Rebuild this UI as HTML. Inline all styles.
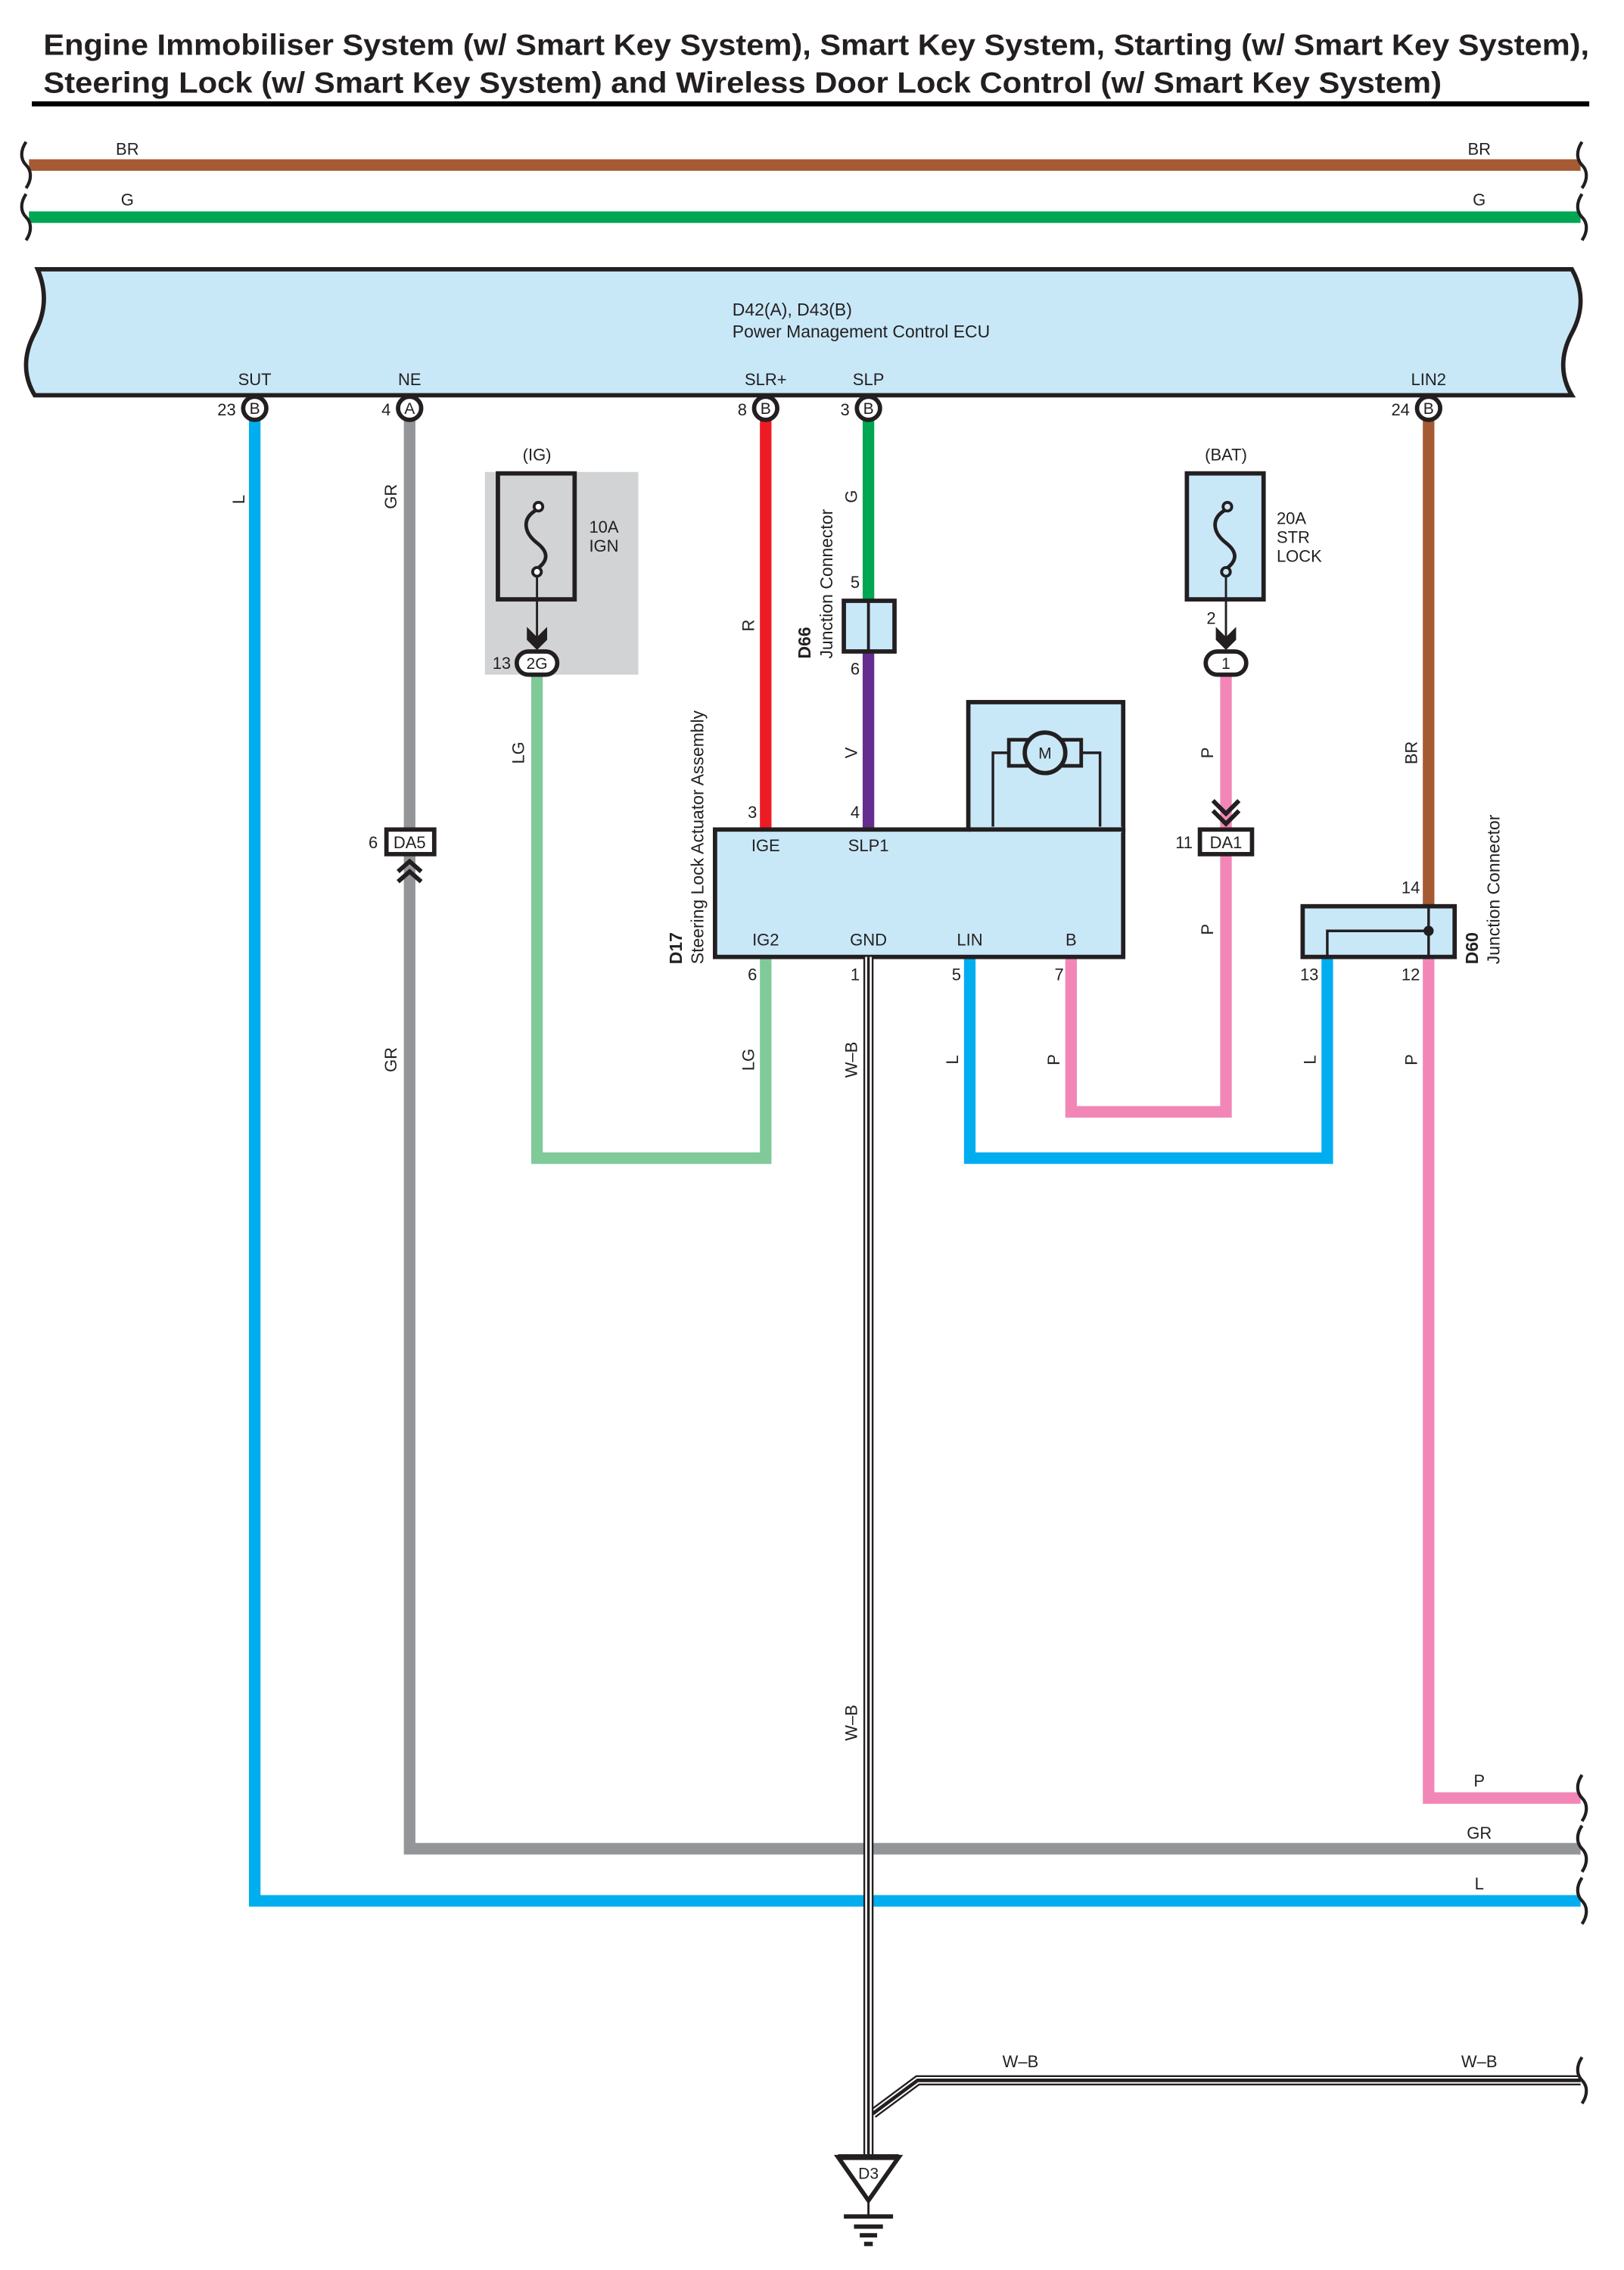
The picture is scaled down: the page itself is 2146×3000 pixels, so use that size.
<!DOCTYPE html>
<html><head><meta charset="utf-8"><style>
html,body{margin:0;padding:0;background:#fff}
svg{display:block}
text{font-family:"Liberation Sans",sans-serif;fill:#231f20}
.t{font-size:11.5px}
.v{font-size:11.5px}
</style></head><body>
<svg width="2146" height="3000" viewBox="0 0 1122 1568" preserveAspectRatio="none" xmlns="http://www.w3.org/2000/svg">
<defs>
<path id="brk" d="M0,-16 C-4,-10 -4,-4 0,0 C4,4 4,10 0,16" fill="none" stroke="#231f20" stroke-width="2.2"/>
</defs>
<!-- Title -->
<text x="30" y="38" font-size="20.5" font-weight="bold" textLength="1068" lengthAdjust="spacingAndGlyphs">Engine Immobiliser System (w/ Smart Key System), Smart Key System, Starting (w/ Smart Key System),</text>
<text x="30" y="64" font-size="20.5" font-weight="bold" textLength="966" lengthAdjust="spacingAndGlyphs">Steering Lock (w/ Smart Key System) and Wireless Door Lock Control (w/ Smart Key System)</text>
<rect x="22" y="70" width="1076" height="3.5" fill="#000"/>

<!-- top wires -->
<line x1="20" y1="114" x2="1092" y2="114" stroke="#A65A33" stroke-width="8"/>
<line x1="20" y1="150" x2="1092" y2="150" stroke="#00A651" stroke-width="8"/>
<text x="88" y="107" class="t" text-anchor="middle">BR</text>
<text x="1022" y="107" class="t" text-anchor="middle">BR</text>
<text x="88" y="142" class="t" text-anchor="middle">G</text>
<text x="1022" y="142" class="t" text-anchor="middle">G</text>
<use href="#brk" x="18" y="114"/><use href="#brk" x="1093" y="114"/>
<use href="#brk" x="18" y="150"/><use href="#brk" x="1093" y="150"/>

<!-- ECU -->
<path d="M26,186 L1086,186 C1094,200 1094,215 1086,230 C1078,245 1078,260 1086,273 L24,273 C16,260 16,245 24,230 C32,215 32,200 26,186 Z" fill="#C8E8F8" stroke="#231f20" stroke-width="3"/>
<text x="506" y="218" font-size="12">D42(A), D43(B)</text>
<text x="506" y="233" font-size="12">Power Management Control ECU</text>
<text x="176" y="266" class="t" text-anchor="middle">SUT</text>
<text x="283" y="266" class="t" text-anchor="middle">NE</text>
<text x="529" y="266" class="t" text-anchor="middle">SLR+</text>
<text x="600" y="266" class="t" text-anchor="middle">SLP</text>
<text x="987" y="266" class="t" text-anchor="middle">LIN2</text>

<!-- wires -->
<g fill="none" stroke-width="8" stroke-linejoin="miter">
<polyline points="176,290 176,1313 1092,1313" stroke="#00AEEF"/>
<polyline points="283,290 283,1277 1092,1277" stroke="#939598"/>
<line x1="529" y1="290" x2="529" y2="573" stroke="#ED1C24"/>
<line x1="600" y1="290" x2="600" y2="415" stroke="#00A651"/>
<line x1="600" y1="450" x2="600" y2="573" stroke="#662D91"/>
<polyline points="371,466 371,800 529,800 529,661" stroke="#80CA9A"/>
<polyline points="670,661 670,800 917,800 917,661" stroke="#00AEEF"/>
<polyline points="740,661 740,768 847,768 847,466" stroke="#F287B7"/>
<line x1="987" y1="290" x2="987" y2="626" stroke="#A65A33"/>
<polyline points="987,661 987,1242 1092,1242" stroke="#F287B7"/>
</g>
<use href="#brk" x="1093" y="1242"/><use href="#brk" x="1093" y="1277"/><use href="#brk" x="1093" y="1313"/>
<text x="1022" y="1234" class="t" text-anchor="middle">P</text>
<text x="1022" y="1270" class="t" text-anchor="middle">GR</text>
<text x="1022" y="1305" class="t" text-anchor="middle">L</text>

<!-- connector circles -->
<g stroke="#231f20" stroke-width="3" fill="#fff">
<circle cx="176" cy="282" r="8"/><circle cx="283" cy="282" r="8"/>
<circle cx="529" cy="282" r="8"/><circle cx="600" cy="282" r="8"/><circle cx="987" cy="282" r="8"/>
</g>
<g font-size="11" text-anchor="middle">
<text x="176" y="286">B</text><text x="283" y="286">A</text><text x="529" y="286">B</text><text x="600" y="286">B</text><text x="987" y="286">B</text>
</g>
<g font-size="11.5" text-anchor="end">
<text x="163" y="287">23</text><text x="270" y="287">4</text><text x="516" y="287">8</text><text x="587" y="287">3</text><text x="974" y="287">24</text>
</g>

<!-- IG fuse -->
<rect x="335" y="326" width="106" height="140" fill="#D1D3D4"/>
<rect x="344" y="327" width="53" height="87" fill="none" stroke="#231f20" stroke-width="3"/>
<text x="371" y="318" class="t" text-anchor="middle">(IG)</text>
<text x="407" y="368" class="t">10A</text><text x="407" y="381" class="t">IGN</text>
<path d="M371,352 C360,358 362,368 371,375 C380,382 378,388 371,393" fill="none" stroke="#231f20" stroke-width="2.5"/>
<circle cx="372" cy="350" r="3" fill="#fff" stroke="#231f20" stroke-width="2"/>
<circle cx="371" cy="395" r="3" fill="#fff" stroke="#231f20" stroke-width="2"/>
<line x1="371" y1="398" x2="371" y2="440" stroke="#231f20" stroke-width="1.5"/>
<path d="M364,433 L371,440 L378,433 L378,442 L371,449 L364,442 Z" fill="#231f20"/>
<rect x="357" y="450" width="28" height="16" rx="8" fill="#fff" stroke="#231f20" stroke-width="3"/>
<text x="371" y="462" font-size="11" text-anchor="middle">2G</text>
<text x="353" y="462" class="t" text-anchor="end">13</text>

<!-- BAT fuse -->
<rect x="820" y="327" width="53" height="87" fill="#C8E8F8" stroke="#231f20" stroke-width="3"/>
<text x="847" y="318" class="t" text-anchor="middle">(BAT)</text>
<text x="882" y="362" class="t">20A</text><text x="882" y="375" class="t">STR</text><text x="882" y="388" class="t">LOCK</text>
<path d="M847,352 C836,358 838,368 847,375 C856,382 854,388 847,393" fill="none" stroke="#231f20" stroke-width="2.5"/>
<circle cx="848" cy="350" r="3" fill="#C8E8F8" stroke="#231f20" stroke-width="2"/>
<circle cx="847" cy="395" r="3" fill="#C8E8F8" stroke="#231f20" stroke-width="2"/>
<line x1="847" y1="398" x2="847" y2="440" stroke="#231f20" stroke-width="1.5"/>
<path d="M840,433 L847,440 L854,433 L854,442 L847,449 L840,442 Z" fill="#231f20"/>
<text x="840" y="431" class="t" text-anchor="end">2</text>
<rect x="833" y="450" width="28" height="16" rx="8" fill="#fff" stroke="#231f20" stroke-width="3"/>
<text x="847" y="462" font-size="11" text-anchor="middle">1</text>

<!-- DA1 -->
<path d="M838,553 L847,562 L856,553 M838,560 L847,569 L856,560" fill="none" stroke="#231f20" stroke-width="3"/>
<rect x="829" y="573" width="36" height="17" fill="#fff" stroke="#231f20" stroke-width="3"/>
<text x="847" y="586" font-size="11.5" text-anchor="middle">DA1</text>
<text x="824" y="586" class="t" text-anchor="end">11</text>

<!-- DA5 -->
<rect x="267" y="573" width="33" height="17" fill="#fff" stroke="#231f20" stroke-width="3"/>
<text x="283" y="586" font-size="11.5" text-anchor="middle">DA5</text>
<text x="261" y="586" class="t" text-anchor="end">6</text>
<path d="M275,602 L283,595 L291,602 M275,609 L283,602 L291,609" fill="none" stroke="#231f20" stroke-width="3"/>

<!-- D66 -->
<rect x="583" y="415" width="35" height="35" fill="#C8E8F8" stroke="#231f20" stroke-width="3"/>
<line x1="600" y1="415" x2="600" y2="450" stroke="#231f20" stroke-width="2"/>
<text x="594" y="406" class="t" text-anchor="end">5</text>
<text x="594" y="466" class="t" text-anchor="end">6</text>
<text transform="translate(560,455) rotate(-90)" font-size="12" font-weight="bold">D66</text>
<text transform="translate(575,455) rotate(-90)" font-size="12">Junction Connector</text>

<!-- D17 -->
<rect x="669" y="485" width="107" height="88" fill="#C8E8F8" stroke="#231f20" stroke-width="3"/>
<polyline points="686,573 686,520 760,520 760,573" fill="none" stroke="#231f20" stroke-width="1.8"/>
<rect x="697" y="511" width="50" height="18" fill="#C8E8F8" stroke="#231f20" stroke-width="2.5"/>
<circle cx="722" cy="520" r="14" fill="#C8E8F8" stroke="#231f20" stroke-width="3"/>
<text x="722" y="524" font-size="11" text-anchor="middle">M</text>
<rect x="494" y="573" width="282" height="88" fill="#C8E8F8" stroke="#231f20" stroke-width="3"/>
<rect x="671" y="571" width="104" height="4" fill="#C8E8F8"/>
<line x1="669" y1="573" x2="776" y2="573" stroke="#231f20" stroke-width="3"/>
<g class="t" text-anchor="middle" font-size="12">
<text x="529" y="588">IGE</text><text x="600" y="588">SLP1</text>
<text x="529" y="653">IG2</text><text x="600" y="653">GND</text><text x="670" y="653">LIN</text><text x="740" y="653">B</text>
</g>
<g font-size="11.5" text-anchor="end">
<text x="523" y="565">3</text><text x="594" y="565">4</text>
<text x="523" y="677">6</text><text x="594" y="677">1</text><text x="664" y="677">5</text><text x="735" y="677">7</text>
</g>
<text transform="translate(471,666) rotate(-90)" font-size="12" font-weight="bold">D17</text>
<text transform="translate(486,666) rotate(-90)" font-size="12">Steering Lock Actuator Assembly</text>

<!-- D60 -->
<rect x="900" y="626" width="105" height="35" fill="#C8E8F8" stroke="#231f20" stroke-width="3"/>
<polyline points="917,661 917,643 987,643" fill="none" stroke="#231f20" stroke-width="1.8"/>
<line x1="987" y1="626" x2="987" y2="661" stroke="#231f20" stroke-width="1.8"/>
<circle cx="987" cy="643" r="3.5" fill="#231f20"/>
<text x="981" y="617" class="t" text-anchor="end">14</text>
<text x="911" y="677" class="t" text-anchor="end">13</text>
<text x="981" y="677" class="t" text-anchor="end">12</text>
<text transform="translate(1021,666) rotate(-90)" font-size="12" font-weight="bold">D60</text>
<text transform="translate(1036,666) rotate(-90)" font-size="12">Junction Connector</text>

<!-- W-B ground -->
<path d="M603,1460 L634,1437 L1092,1437" fill="none" stroke="#231f20" stroke-width="7" stroke-linejoin="miter"/>
<path d="M603,1460 L634,1437 L1092,1437" fill="none" stroke="#fff" stroke-width="4.5"/>
<path d="M603,1460 L634,1437 L1092,1437" fill="none" stroke="#231f20" stroke-width="2.5"/>
<line x1="600" y1="661" x2="600" y2="1490" stroke="#231f20" stroke-width="7"/>
<line x1="600" y1="661" x2="600" y2="1490" stroke="#fff" stroke-width="4.5"/>
<line x1="600" y1="661" x2="600" y2="1490" stroke="#231f20" stroke-width="1.8"/>
<use href="#brk" x="1093" y="1437"/>
<text x="705" y="1428" class="t" text-anchor="middle">W–B</text>
<text x="1022" y="1428" class="t" text-anchor="middle">W–B</text>
<path d="M579,1490 L621,1490 L600,1520 Z" fill="#fff" stroke="#231f20" stroke-width="3"/>
<line x1="579" y1="1490" x2="621" y2="1490" stroke="#231f20" stroke-width="4"/>
<text x="600" y="1505" font-size="11" text-anchor="middle">D3</text>
<line x1="600" y1="1520" x2="600" y2="1530" stroke="#231f20" stroke-width="1.5"/>
<line x1="583" y1="1531" x2="617" y2="1531" stroke="#231f20" stroke-width="3"/>
<line x1="590" y1="1538" x2="610" y2="1538" stroke="#231f20" stroke-width="3"/>
<line x1="594" y1="1544" x2="606" y2="1544" stroke="#231f20" stroke-width="3"/>
<line x1="597" y1="1550" x2="603" y2="1550" stroke="#231f20" stroke-width="3"/>

<!-- vertical wire labels -->
<g class="v" text-anchor="middle">
<text transform="translate(169,345) rotate(-90)">L</text>
<text transform="translate(274,343) rotate(-90)">GR</text>
<text transform="translate(274,732) rotate(-90)">GR</text>
<text transform="translate(362,520) rotate(-90)">LG</text>
<text transform="translate(521,432) rotate(-90)">R</text>
<text transform="translate(592,343) rotate(-90)">G</text>
<text transform="translate(592,520) rotate(-90)">V</text>
<text transform="translate(838,520) rotate(-90)">P</text>
<text transform="translate(979,520) rotate(-90)">BR</text>
<text transform="translate(838,642) rotate(-90)">P</text>
<text transform="translate(521,732) rotate(-90)">LG</text>
<text transform="translate(592,732) rotate(-90)">W–B</text>
<text transform="translate(592,1190) rotate(-90)">W–B</text>
<text transform="translate(662,732) rotate(-90)">L</text>
<text transform="translate(732,732) rotate(-90)">P</text>
<text transform="translate(909,732) rotate(-90)">L</text>
<text transform="translate(979,732) rotate(-90)">P</text>
</g>
</svg>
</body></html>
